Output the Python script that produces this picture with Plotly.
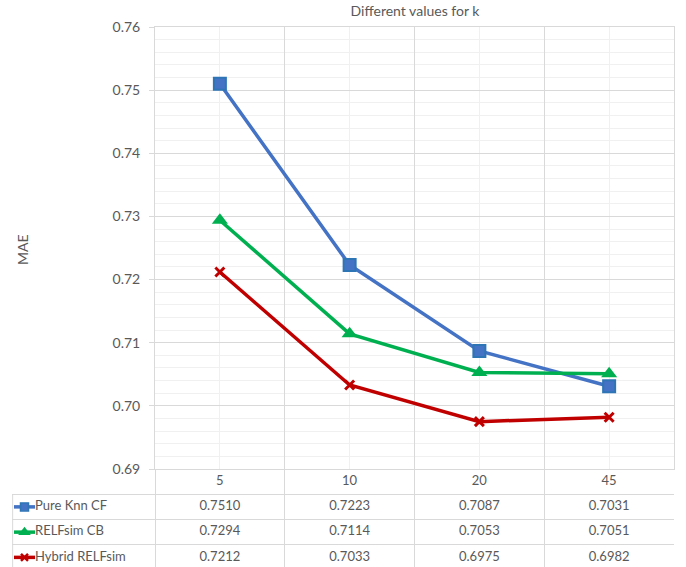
import plotly.graph_objects as go

categories = ["5", "10", "20", "45"]
series_names = ["Pure Knn CF", "RELFsim CB", "Hybrid RELFsim"]
pure_knn_cf = [0.7510, 0.7223, 0.7087, 0.7031]
relfsim_cb = [0.7294, 0.7114, 0.7053, 0.7051]
hybrid_relfsim = [0.7212, 0.7033, 0.6975, 0.6982]
y_ticks = [0.69, 0.70, 0.71, 0.72, 0.73, 0.74, 0.75, 0.76]

W, H = 686, 567
ML, MR, MT, MB = 12, 12, 27, 0
plot_left_px, plot_right_px, plot_bottom_px = 155, 674, 469
row_h = 25.25

paper_w = W - ML - MR
paper_h = H - MT - MB
ydom0 = (H - plot_bottom_px) / paper_h
xdom0 = (plot_left_px - ML) / paper_w
cat_w = (plot_right_px - plot_left_px) / len(categories)
x2_left = -0.5 - (plot_left_px - ML) / cat_w
y2_bottom = (H - plot_bottom_px) / row_h - 0.5

def px_to_x2(px):
    return -0.5 + (px - plot_left_px) / cat_w

xs = list(range(len(categories)))
colors = ["#4472C4", "#00B050", "#C00000"]
markers = [
    dict(symbol="square", size=12, color="#4472C4", line=dict(color="#2E75B6", width=2)),
    dict(symbol="triangle-up", size=14, color="#00B050", line=dict(color="#00B050", width=0)),
    dict(symbol="x-thin-open", size=9, color="#C00000", line=dict(color="#C00000", width=3)),
]
key_markers = [
    dict(symbol="square", size=8, color="#4472C4", line=dict(color="#2E75B6", width=1.5)),
    dict(symbol="triangle-up", size=11, color="#00B050", line=dict(width=0)),
    dict(symbol="x-thin-open", size=7, color="#C00000", line=dict(color="#C00000", width=2.5)),
]
all_values = [pure_knn_cf, relfsim_cb, hybrid_relfsim]

txt = "#595959"
font_family = "Lato, 'Open Sans', sans-serif"
major = "#D9D9D9"
minor = "#F0F0F0"

fig = go.Figure()
for name, vals, col, mk in zip(series_names, all_values, colors, markers):
    fig.add_trace(go.Scatter(x=xs, y=vals, mode="lines+markers", name=name,
                             line=dict(color=col, width=3.5), marker=mk,
                             cliponaxis=False, showlegend=False))

# data table: header
fig.add_trace(go.Scatter(x=xs, y=[0] * len(xs), text=categories, mode="text",
                         textfont=dict(family=font_family, size=13, color=txt),
                         xaxis="x2", yaxis="y2", showlegend=False, hoverinfo="skip"))
for i, (name, vals, col, km) in enumerate(zip(series_names, all_values, colors, key_markers)):
    r = i + 1
    fig.add_trace(go.Scatter(x=xs, y=[r] * len(xs), text=[f"{v:.4f}" for v in vals],
                             mode="text", textfont=dict(family=font_family, size=13, color=txt),
                             xaxis="x2", yaxis="y2", showlegend=False, hoverinfo="skip"))
    fig.add_trace(go.Scatter(x=[px_to_x2(14), px_to_x2(35)], y=[r, r], mode="lines",
                             line=dict(color=col, width=3.5), xaxis="x2", yaxis="y2",
                             showlegend=False, hoverinfo="skip"))
    fig.add_trace(go.Scatter(x=[px_to_x2(24.5)], y=[r], mode="markers", marker=km,
                             xaxis="x2", yaxis="y2", showlegend=False, hoverinfo="skip"))
    fig.add_trace(go.Scatter(x=[px_to_x2(35)], y=[r], text=[name], mode="text",
                             textposition="middle right",
                             textfont=dict(family=font_family, size=13, color=txt),
                             xaxis="x2", yaxis="y2", showlegend=False, hoverinfo="skip"))

bounds = [i - 0.5 for i in range(len(categories) + 1)]

fig.add_shape(type="line", xref="x2", yref="y2", x0=x2_left + 0.005, x1=x2_left + 0.005,
              y0=0.5, y1=y2_bottom, line=dict(color=major, width=1))

fig.update_layout(
    width=W, height=H,
    margin=dict(l=ML, r=MR, t=MT, b=MB, autoexpand=False),
    paper_bgcolor="white", plot_bgcolor="white",
    font=dict(family=font_family, color=txt),
    title=dict(text="Different values for k", x=415 / W, xanchor="center",
               y=1 - 11 / H, yanchor="middle", yref="container", automargin=False,
               font=dict(size=14, color=txt, family=font_family)),
    xaxis=dict(domain=[xdom0, 1], range=[-0.5, len(categories) - 0.5],
               tickvals=bounds, showticklabels=False, ticks="", automargin=False,
               showgrid=True, gridcolor=major, gridwidth=1,
               minor=dict(tickvals=xs, showgrid=True, gridcolor=minor, ticks=""),
               showline=True, linecolor=major, mirror=True, zeroline=False,
               anchor="y"),
    yaxis=dict(domain=[ydom0, 1], range=[y_ticks[0], y_ticks[-1]],
               tickvals=y_ticks, tickformat=".2f", automargin=False,
               ticks="outside", ticklen=5, tickcolor=major, ticklabelstandoff=6,
               tickfont=dict(size=14, color=txt, family=font_family),
               showgrid=True, gridcolor=major,
               minor=dict(dtick=0.002, showgrid=True, gridcolor=minor, ticks=""),
               showline=True, linecolor=major, mirror=True, zeroline=False,
               anchor="x"),
    xaxis2=dict(domain=[0, 1], range=[x2_left, len(categories) - 0.5],
                tickvals=bounds, showticklabels=False, ticks="", automargin=False,
                showgrid=True, gridcolor=major, showline=False, zeroline=False,
                anchor="y2"),
    yaxis2=dict(domain=[0, ydom0], range=[y2_bottom, -0.5],
                tickvals=[0.5, 1.5, 2.5], showticklabels=False, ticks="", automargin=False,
                showgrid=True, gridcolor=major, showline=False, zeroline=False,
                anchor="x2"),
    annotations=[dict(text="MAE", xref="paper", yref="paper",
                      x=(22 - ML) / paper_w, y=(H - 250) / paper_h,
                      xanchor="center", yanchor="middle",
                      textangle=-90, showarrow=False,
                      font=dict(size=14, color=txt, family=font_family))],
)

fig.write_html("out.html", config={"displayModeBar": False},
               post_script="document.body.style.margin='0';document.body.style.padding='0';")
